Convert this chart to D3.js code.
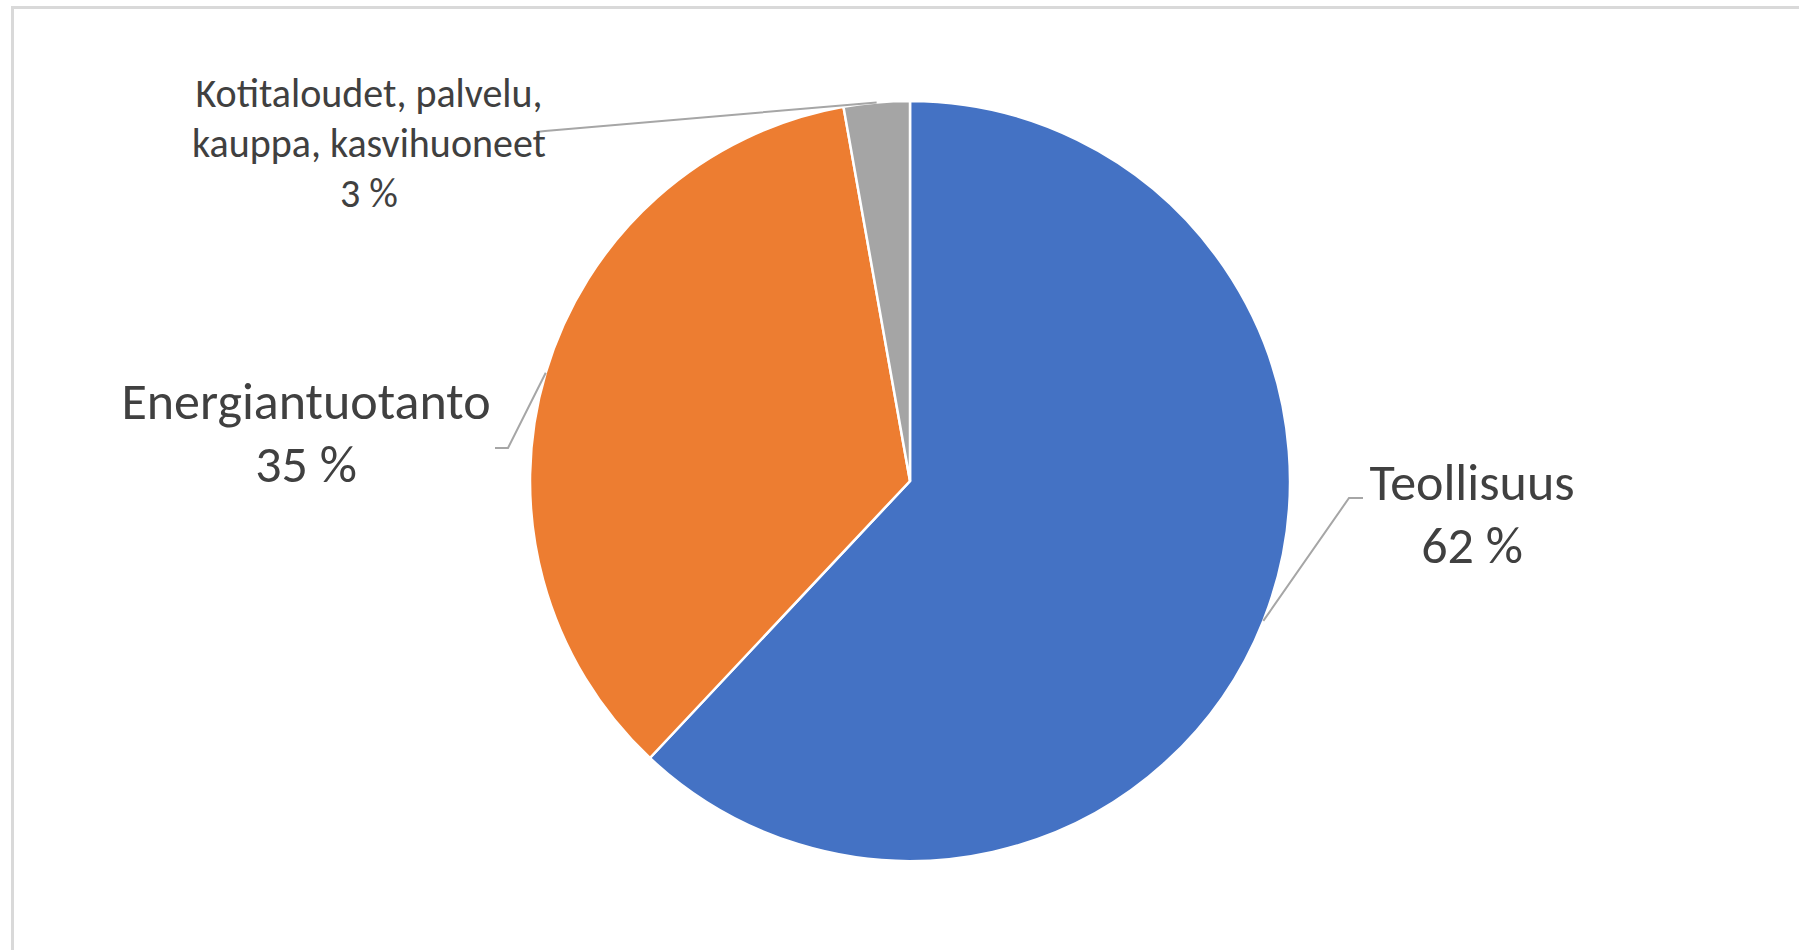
<!DOCTYPE html>
<html>
<head>
<meta charset="utf-8">
<script src="https://d3js.org/d3.v7.min.js"></script>
<style>
body {
  margin: 0;
  background: #ffffff;
}
.label {
  fill: #404040;
  font-family: Carlito, Calibri, Lato, sans-serif;
  text-anchor: middle;
}
.leader {
  fill: none;
  stroke: #a6a6a6;
  stroke-width: 2;
}
</style>
</head>
<body>
<svg width="1799" height="950"></svg>
<script>
// chart data
var categories = ["Teollisuus", "Energiantuotanto", "Kotitaloudet, palvelu, kauppa, kasvihuoneet"];
var shares = [62.0, 35.2, 2.8];
var percentLabels = ["62 %", "35 %", "3 %"];
var labelLines = [["Teollisuus"], ["Energiantuotanto"], ["Kotitaloudet, palvelu,", "kauppa, kasvihuoneet"]];
var colors = ["#4472c4", "#ed7d31", "#a5a5a5"];

// layout of the data labels (centre x, first baseline, font size, line height, leader elbow + end)
var labelLayout = [
  {x: 1472, y: 500, size: 52, lh: 63, elbow: [1349, 498], end: [1363, 498]},
  {x: 306, y: 419, size: 52, lh: 63, elbow: [508, 448], end: [495, 448]},
  {x: 369, y: 107, size: 40, lh: 50, elbow: [545, 131], end: [536, 132]}
];

var svg = d3.select("svg");
var cx = 910, cy = 481, radius = 380;

// chart area frame
svg.append("rect")
  .attr("x", 12.5)
  .attr("y", 7.5)
  .attr("width", 1900)
  .attr("height", 1000)
  .style("fill", "none")
  .style("stroke", "#d9d9d9")
  .style("stroke-width", 3);

var data = categories.map(function(c, i) {
  return {name: c, value: shares[i], pct: percentLabels[i], lines: labelLines[i], color: colors[i], lay: labelLayout[i]};
});

var pie = d3.pie().sort(null).value(d => d.value);
var arc = d3.arc().innerRadius(0).outerRadius(radius);
var arcs = pie(data);

var g = svg.append("g").attr("transform", "translate(" + cx + "," + cy + ")");

g.selectAll(".slice")
  .data(arcs)
  .enter().append("path")
  .attr("class", "slice")
  .attr("d", arc)
  .style("fill", d => d.data.color)
  .style("stroke", "#ffffff")
  .style("stroke-width", 2.5)
  .style("stroke-linejoin", "miter");

// leader lines from the slice's outer edge to the label
svg.selectAll(".leader")
  .data(arcs)
  .enter().append("polyline")
  .attr("class", "leader")
  .attr("points", function(d) {
    var a = (d.startAngle + d.endAngle) / 2;
    var sx = cx + Math.sin(a) * radius, sy = cy - Math.cos(a) * radius;
    return [[sx, sy], d.data.lay.elbow, d.data.lay.end].map(p => p.join(",")).join(" ");
  });

// labels
var labels = svg.selectAll(".label")
  .data(arcs)
  .enter().append("text")
  .attr("class", "label")
  .attr("x", d => d.data.lay.x)
  .attr("y", d => d.data.lay.y)
  .style("font-size", d => d.data.lay.size + "px");

labels.each(function(d) {
  var t = d3.select(this);
  var lines = d.data.lines.concat([d.data.pct]);
  lines.forEach(function(s, i) {
    t.append("tspan")
      .attr("x", d.data.lay.x)
      .attr("dy", i == 0 ? 0 : d.data.lay.lh)
      .text(s);
  });
});
</script>
</body>
</html>
